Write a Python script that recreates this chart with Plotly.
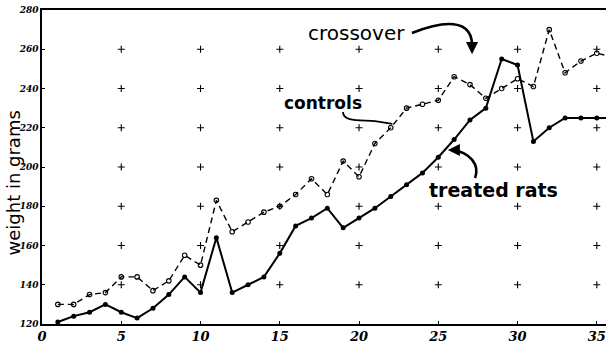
import plotly.graph_objects as go

# Body weight of rats by day of experiment
days = list(range(1, 37))
treated = [121, 124, 126, 130, 126, 123, 128, 135, 144, 136, 164, 136,
           140, 144, 156, 170, 174, 179, 169, 174, 179, 185, 191, 197,
           205, 214, 224, 230, 255, 252, 213, 220, 225, 225, 225, 225]
controls = [130, 130, 135, 136, 144, 144, 137, 142, 155, 150, 183, 167,
            172, 177, 180, 186, 194, 186, 203, 195, 212, 220, 230, 232,
            234, 246, 242, 235, 240, 245, 241, 270, 248, 254, 258, 256]

x_ticks = [0, 5, 10, 15, 20, 25, 30, 35]
y_ticks = [120, 140, 160, 180, 200, 220, 240, 260, 280]

tick_font = dict(family="DejaVu Serif", color="black", weight="bold", style="italic")
hand_font = "DejaVu Sans"

fig = go.Figure()

# "+" marks at the interior grid intersections
gx, gy = [], []
for xv in x_ticks[1:]:
    for yv in y_ticks[1:-1]:
        gx.append(xv)
        gy.append(yv)
fig.add_trace(go.Scatter(
    x=gx, y=gy, mode="markers", hoverinfo="skip",
    marker=dict(symbol="cross-thin", size=5, line=dict(width=1.1, color="black")),
))

fig.add_trace(go.Scatter(
    x=days, y=controls, mode="lines+markers", name="controls",
    line=dict(color="black", width=1.4, dash="6px,4px"),
    marker=dict(symbol="circle-open", size=4.5, color="black", line=dict(width=1.1)),
))
fig.add_trace(go.Scatter(
    x=days, y=treated, mode="lines+markers", name="treated rats",
    line=dict(color="black", width=2),
    marker=dict(symbol="circle", size=5, color="black"),
))

# Hand-drawn style curved arrows (data coordinates)
curve = dict(type="path", xref="x", yref="y", line=dict(color="black", width=2.6))
fig.add_shape(path="M 23.34,268.3 C 25.1,273.9 27.3,277.5 27.13,259.5", **curve)
fig.add_shape(path="M 18.99,228.0 C 18.99,222.9 20.06,224.0 21.01,223.4 L 22.1,222.0",
              type="path", xref="x", yref="y", line=dict(color="black", width=1.8))
fig.add_shape(path="M 27.32,194.4 C 27.63,201.0 27.0,207.6 25.9,208.7", **curve)

arrow = dict(text="", showarrow=True, arrowhead=2, arrowsize=1.1, arrowwidth=2.2,
             arrowcolor="black", axref="pixel", ayref="pixel", xref="x", yref="y")
fig.add_annotation(x=27.13, y=257.5, ax=0, ay=-8, **arrow)
fig.add_annotation(x=25.6, y=208.7, ax=7, ay=0, **arrow)

labels = [
    ("crossover", 19.85, 268.3, 20, "normal"),
    ("controls", 17.7, 232.6, 17, "bold"),
    ("treated rats", 28.5, 188.3, 19, "bold"),
]
for text, xv, yv, size, weight in labels:
    fig.add_annotation(x=xv, y=yv, xref="x", yref="y", text=text, showarrow=False,
                       font=dict(family=hand_font, size=size, color="black", weight=weight))

fig.add_annotation(x=-0.05, y=0.45, xref="paper", yref="paper", text="weight in grams",
                   textangle=-90, showarrow=False, xanchor="center", yanchor="middle",
                   font=dict(family=hand_font, size=18, color="black"))

fig.update_layout(
    width=606, height=343,
    margin=dict(l=42, r=0, t=10, b=19),
    paper_bgcolor="white", plot_bgcolor="white",
    showlegend=False,
    xaxis=dict(range=[0, 35.58], tickvals=x_ticks, showgrid=False, zeroline=False,
               showline=True, linecolor="black", linewidth=1.5, mirror=True,
               ticks="inside", ticklen=3, tickcolor="black",
               tickfont=dict(size=13, **tick_font)),
    yaxis=dict(range=[120, 280], tickvals=y_ticks, showgrid=False, zeroline=False,
               showline=True, linecolor="black", linewidth=1.5,
               ticks="inside", ticklen=3, tickcolor="black",
               tickfont=dict(size=9, **tick_font)),
)

fig.write_html("out.html")
